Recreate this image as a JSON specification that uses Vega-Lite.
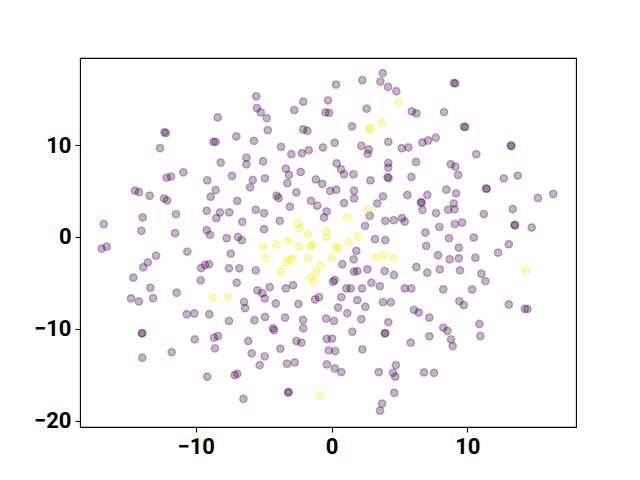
{
"$schema":"https://vega.github.io/schema/vega-lite/v6.json",
"width":496,"height":369,
"autosize":{"type":"none"},
"padding":{"left":80,"top":58,"right":64,"bottom":53},
"background":"white",
"config":{"view":{"stroke":"black","strokeWidth":1.1},
"axis":{"domain":false,"grid":false,"ticks":true,"tickColor":"black","tickSize":5,"tickWidth":1.1,"labelFont":"Roboto","labelFontWeight":"bold","labelFontSize":22,"labelColor":"black","labelPadding":4,"title":null}},
"data":{"values":[
{"x":-12.3,"y":11.4,"g":0},{"x":-12.2,"y":11.3,"g":0},{"x":-12.63,"y":9.65,"g":0},{"x":-12.14,"y":6.45,"g":0},{"x":-11.82,"y":6.56,"g":0},{"x":-10.91,"y":7.03,"g":0},
{"x":-5.54,"y":15.3,"g":0},{"x":-5.49,"y":14.02,"g":0},{"x":-5.21,"y":13.55,"g":0},{"x":-4.77,"y":12.93,"g":0},{"x":-4.7,"y":11.62,"g":0},{"x":-8.38,"y":13.0,"g":0},{"x":-8.7,"y":10.35,"g":0},{"x":-8.53,"y":10.35,"g":0},{"x":-7.01,"y":10.93,"g":0},{"x":-5.71,"y":10.46,"g":0},{"x":-8.16,"y":8.09,"g":0},{"x":-7.33,"y":6.63,"g":0},{"x":-6.27,"y":8.63,"g":0},{"x":-6.27,"y":7.9,"g":0},{"x":-5.04,"y":8.23,"g":0},{"x":-5.8,"y":6.19,"g":0},{"x":-4.9,"y":6.37,"g":0},{"x":-9.15,"y":6.15,"g":0},{"x":-3.72,"y":9.8,"g":0},{"x":-2.96,"y":9.0,"g":0},{"x":-3.37,"y":7.43,"g":0},{"x":-3.13,"y":6.74,"g":0},{"x":-2.27,"y":7.07,"g":0},{"x":-2.74,"y":13.8,"g":0},{"x":-2.08,"y":14.72,"g":0},{"x":-2.08,"y":11.69,"g":0},{"x":-1.78,"y":11.55,"g":0},{"x":-2.19,"y":9.1,"g":0},{"x":-1.68,"y":9.43,"g":0},{"x":-1.16,"y":6.26,"g":0},{"x":-0.63,"y":9.73,"g":0},{"x":-0.26,"y":14.86,"g":0},{"x":-0.44,"y":13.55,"g":0},{"x":-0.18,"y":13.5,"g":0},
{"x":0.33,"y":16.58,"g":0},{"x":2.27,"y":17.05,"g":0},{"x":3.77,"y":17.81,"g":0},{"x":3.6,"y":16.9,"g":0},{"x":4.16,"y":16.32,"g":0},{"x":4.77,"y":15.85,"g":0},{"x":2.59,"y":13.96,"g":0},{"x":1.51,"y":12.02,"g":0},{"x":5.91,"y":13.66,"g":0},{"x":6.25,"y":13.44,"g":0},{"x":8.28,"y":13.58,"g":0},{"x":9.0,"y":16.75,"g":0},{"x":9.12,"y":16.7,"g":0},{"x":0.23,"y":10.24,"g":0},{"x":2.2,"y":9.91,"g":0},{"x":2.74,"y":9.51,"g":0},{"x":2.66,"y":9.04,"g":0},{"x":4.18,"y":10.35,"g":0},{"x":5.17,"y":9.65,"g":0},{"x":5.66,"y":9.73,"g":0},{"x":6.69,"y":10.27,"g":0},{"x":7.11,"y":10.49,"g":0},{"x":7.67,"y":10.79,"g":0},{"x":0.38,"y":8.01,"g":0},{"x":0.7,"y":7.36,"g":0},{"x":0.92,"y":6.81,"g":0},{"x":1.61,"y":6.81,"g":0},{"x":2.86,"y":6.15,"g":0},{"x":4.18,"y":8.05,"g":0},{"x":4.18,"y":7.54,"g":0},{"x":4.12,"y":6.5,"g":0},{"x":4.2,"y":6.4,"g":0},{"x":6.22,"y":8.16,"g":0},{"x":5.88,"y":6.52,"g":0},{"x":8.78,"y":7.9,"g":0},{"x":9.12,"y":7.65,"g":0},
{"x":9.75,"y":12.0,"g":0},{"x":9.85,"y":11.95,"g":0},{"x":13.2,"y":9.95,"g":0},{"x":13.25,"y":9.88,"g":0},{"x":10.66,"y":9.0,"g":0},{"x":9.32,"y":6.74,"g":0},{"x":12.68,"y":6.37,"g":0},{"x":13.71,"y":6.67,"g":0},
{"x":-14.47,"y":5.03,"g":0},{"x":-14.18,"y":4.88,"g":0},{"x":-13.39,"y":4.48,"g":0},{"x":-12.33,"y":4.19,"g":0},{"x":-12.11,"y":3.97,"g":0},{"x":-13.9,"y":2.11,"g":0},{"x":-11.45,"y":2.48,"g":0},{"x":-16.77,"y":1.39,"g":0},{"x":-14.0,"y":0.66,"g":0},{"x":-11.52,"y":0.4,"g":0},{"x":-16.92,"y":-1.28,"g":0},{"x":-16.55,"y":-1.06,"g":0},{"x":-12.92,"y":-2.04,"g":0},{"x":-13.53,"y":-2.77,"g":0},{"x":-13.86,"y":-3.31,"g":0},{"x":-10.62,"y":-1.6,"g":0},{"x":-14.59,"y":-4.44,"g":0},{"x":-9.6,"y":-3.39,"g":0},{"x":-9.31,"y":-3.06,"g":0},{"x":-9.02,"y":-2.98,"g":0},{"x":-9.63,"y":-4.73,"g":0},{"x":-13.34,"y":-5.54,"g":0},{"x":-11.4,"y":-6.08,"g":0},{"x":-14.76,"y":-6.7,"g":0},{"x":-14.18,"y":-7.03,"g":0},{"x":-13.14,"y":-6.67,"g":0},
{"x":-3.25,"y":5.85,"g":0},{"x":-0.68,"y":5.76,"g":0},{"x":-8.53,"y":5.1,"g":0},{"x":-8.9,"y":4.37,"g":0},{"x":-6.0,"y":5.39,"g":0},{"x":-4.04,"y":4.48,"g":0},{"x":-3.89,"y":4.23,"g":0},{"x":-2.59,"y":4.84,"g":0},{"x":-1.51,"y":3.93,"g":0},{"x":-1.05,"y":3.39,"g":0},{"x":-0.1,"y":5.0,"g":0},{"x":0.35,"y":5.14,"g":0},{"x":-6.94,"y":3.93,"g":0},{"x":-9.19,"y":2.84,"g":0},{"x":-8.21,"y":2.66,"g":0},{"x":-8.48,"y":2.04,"g":0},{"x":-7.53,"y":2.66,"g":0},{"x":-6.57,"y":1.64,"g":0},{"x":-5.58,"y":2.95,"g":0},{"x":-4.97,"y":2.59,"g":0},{"x":-3.81,"y":1.75,"g":0},{"x":-3.06,"y":3.28,"g":0},{"x":-4.97,"y":0.84,"g":0},{"x":-0.55,"y":2.11,"g":0},{"x":-0.36,"y":2.77,"g":0},{"x":-9.19,"y":0.73,"g":0},{"x":-8.95,"y":0.22,"g":0},{"x":-7.72,"y":-0.14,"g":0},{"x":-6.89,"y":0.0,"g":0},{"x":-6.61,"y":-0.36,"g":0},{"x":-7.42,"y":-1.82,"g":0},{"x":-7.55,"y":-3.42,"g":0},{"x":-6.79,"y":-3.42,"g":0},{"x":-5.58,"y":-3.64,"g":0},{"x":-6.98,"y":-4.99,"g":0},{"x":-5.46,"y":-5.83,"g":0},{"x":-5.1,"y":-6.12,"g":0},{"x":-4.92,"y":-6.7,"g":0},{"x":-4.55,"y":-5.46,"g":0},{"x":-3.37,"y":-5.61,"g":0},{"x":-2.83,"y":-5.25,"g":0},{"x":-6.44,"y":-7.07,"g":0},{"x":-4.11,"y":-7.25,"g":0},{"x":-2.44,"y":-7.29,"g":0},{"x":-1.21,"y":-6.81,"g":0},{"x":-0.92,"y":-6.56,"g":0},
{"x":1.66,"y":5.03,"g":0},{"x":1.66,"y":4.19,"g":0},{"x":0.92,"y":3.68,"g":0},{"x":3.79,"y":4.41,"g":0},{"x":3.37,"y":3.64,"g":0},{"x":2.81,"y":2.3,"g":0},{"x":5.58,"y":4.56,"g":0},{"x":7.05,"y":4.56,"g":0},{"x":8.45,"y":5.14,"g":0},{"x":6.58,"y":3.78,"g":0},{"x":6.64,"y":3.72,"g":0},{"x":6.69,"y":2.95,"g":0},{"x":7.7,"y":2.59,"g":0},{"x":8.58,"y":2.95,"g":0},{"x":3.96,"y":1.75,"g":0},{"x":4.58,"y":1.82,"g":0},{"x":5.19,"y":2.04,"g":0},{"x":5.39,"y":1.67,"g":0},{"x":2.47,"y":1.2,"g":0},{"x":1.83,"y":-1.53,"g":0},{"x":1.63,"y":-2.44,"g":0},{"x":3.2,"y":-0.25,"g":0},{"x":3.96,"y":-0.36,"g":0},{"x":6.91,"y":0.47,"g":0},{"x":7.94,"y":1.09,"g":0},{"x":8.65,"y":-0.14,"g":0},{"x":6.97,"y":-0.98,"g":0},{"x":7.84,"y":-2.0,"g":0},{"x":8.7,"y":-2.44,"g":0},{"x":0.8,"y":-2.98,"g":0},{"x":1.66,"y":-3.79,"g":0},{"x":1.9,"y":-3.72,"g":0},{"x":2.64,"y":-3.53,"g":0},{"x":3.92,"y":-3.72,"g":0},{"x":4.6,"y":-4.15,"g":0},{"x":6.25,"y":-3.28,"g":0},{"x":7.05,"y":-3.9,"g":0},{"x":7.97,"y":-3.53,"g":0},{"x":0.23,"y":-4.7,"g":0},{"x":0.11,"y":-4.88,"g":0},{"x":2.93,"y":-4.99,"g":0},{"x":3.55,"y":-5.36,"g":0},{"x":1.09,"y":-5.61,"g":0},{"x":1.41,"y":-5.61,"g":0},{"x":2.25,"y":-5.61,"g":0},{"x":5.39,"y":-5.61,"g":0},{"x":5.88,"y":-5.61,"g":0},{"x":8.23,"y":-5.72,"g":0},{"x":0.72,"y":-6.56,"g":0},{"x":1.9,"y":-6.89,"g":0},
{"x":11.38,"y":5.28,"g":0},{"x":11.42,"y":5.22,"g":0},{"x":9.17,"y":4.74,"g":0},{"x":9.0,"y":3.64,"g":0},{"x":9.05,"y":3.0,"g":0},{"x":15.2,"y":4.23,"g":0},{"x":16.33,"y":4.67,"g":0},{"x":11.21,"y":2.48,"g":0},{"x":13.34,"y":3.03,"g":0},{"x":9.07,"y":1.39,"g":0},{"x":9.61,"y":1.56,"g":0},{"x":13.47,"y":1.3,"g":0},{"x":13.51,"y":1.26,"g":0},{"x":14.74,"y":1.02,"g":0},{"x":10.47,"y":-0.07,"g":0},{"x":9.37,"y":-1.17,"g":0},{"x":13.05,"y":-0.8,"g":0},{"x":12.26,"y":-1.72,"g":0},{"x":9.37,"y":-2.33,"g":0},{"x":10.59,"y":-2.26,"g":0},{"x":9.46,"y":-3.64,"g":0},{"x":11.03,"y":-4.01,"g":0},{"x":11.33,"y":-4.81,"g":0},{"x":10.35,"y":-5.72,"g":0},{"x":9.41,"y":-6.99,"g":0},{"x":9.74,"y":-7.43,"g":0},{"x":13.05,"y":-7.36,"g":0},{"x":14.23,"y":-7.84,"g":0},{"x":14.42,"y":-7.84,"g":0},
{"x":-10.66,"y":-8.42,"g":0},{"x":-10.1,"y":-8.34,"g":0},{"x":-9.0,"y":-8.42,"g":0},{"x":-13.97,"y":-10.5,"g":0},{"x":-13.93,"y":-10.47,"g":0},{"x":-10.07,"y":-11.15,"g":0},{"x":-13.93,"y":-13.15,"g":0},{"x":-11.77,"y":-12.54,"g":0},{"x":-9.15,"y":-15.22,"g":0},
{"x":-6.37,"y":-7.76,"g":0},{"x":-7.55,"y":-9.14,"g":0},{"x":-5.68,"y":-9.07,"g":0},{"x":-4.9,"y":-8.71,"g":0},{"x":-3.42,"y":-8.78,"g":0},{"x":-2.1,"y":-9.04,"g":0},{"x":-2.08,"y":-9.95,"g":0},{"x":-0.4,"y":-8.89,"g":0},{"x":-4.31,"y":-9.95,"g":0},{"x":-4.23,"y":-10.16,"g":0},{"x":-8.65,"y":-10.96,"g":0},{"x":-8.36,"y":-10.79,"g":0},{"x":-8.58,"y":-12.13,"g":0},{"x":-6.13,"y":-11.33,"g":0},{"x":-5.88,"y":-12.68,"g":0},{"x":-4.92,"y":-13.0,"g":0},{"x":-5.29,"y":-13.96,"g":0},{"x":-3.77,"y":-12.17,"g":0},{"x":-2.59,"y":-11.33,"g":0},{"x":-2.22,"y":-11.51,"g":0},{"x":-3.28,"y":-13.8,"g":0},{"x":-2.71,"y":-13.66,"g":0},{"x":-0.35,"y":-11.11,"g":0},{"x":0.04,"y":-11.07,"g":0},{"x":-0.21,"y":-12.35,"g":0},{"x":0.28,"y":-12.43,"g":0},{"x":-0.35,"y":-13.88,"g":0},{"x":-7.13,"y":-15.05,"g":0},{"x":-6.94,"y":-14.9,"g":0},{"x":-6.49,"y":-17.63,"g":0},{"x":-3.2,"y":-16.93,"g":0},{"x":-3.16,"y":-16.89,"g":0},
{"x":0.48,"y":-7.69,"g":0},{"x":1.16,"y":-8.31,"g":0},{"x":2.49,"y":-7.61,"g":0},{"x":3.79,"y":-7.1,"g":0},{"x":4.36,"y":-7.1,"g":0},{"x":6.07,"y":-7.94,"g":0},{"x":6.42,"y":-8.23,"g":0},{"x":7.2,"y":-8.78,"g":0},{"x":0.18,"y":-9.14,"g":0},{"x":2.19,"y":-8.96,"g":0},{"x":4.18,"y":-9.29,"g":0},{"x":1.53,"y":-10.31,"g":0},{"x":3.92,"y":-10.5,"g":0},{"x":3.96,"y":-10.47,"g":0},{"x":5.83,"y":-11.51,"g":0},{"x":7.2,"y":-10.82,"g":0},{"x":8.23,"y":-9.87,"g":0},{"x":8.53,"y":-10.24,"g":0},{"x":8.8,"y":-11.15,"g":0},{"x":8.92,"y":-11.88,"g":0},{"x":2.27,"y":-12.24,"g":0},{"x":0.23,"y":-14.32,"g":0},{"x":0.72,"y":-14.72,"g":0},{"x":3.48,"y":-14.72,"g":0},{"x":4.73,"y":-13.96,"g":0},{"x":4.53,"y":-14.79,"g":0},{"x":4.7,"y":-15.22,"g":0},{"x":6.81,"y":-14.75,"g":0},{"x":7.55,"y":-14.79,"g":0},{"x":4.62,"y":-16.97,"g":0},{"x":3.72,"y":-18.14,"g":0},{"x":3.57,"y":-18.91,"g":0},{"x":10.88,"y":-9.48,"g":0},{"x":10.96,"y":-10.79,"g":0},
{"x":4.92,"y":14.68,"g":1},{"x":2.8,"y":11.8,"g":1},{"x":2.86,"y":11.74,"g":1},{"x":3.7,"y":12.42,"g":1},{"x":2.69,"y":2.95,"g":1},{"x":1.14,"y":2.11,"g":1},{"x":1.95,"y":0.03,"g":1},{"x":1.27,"y":-0.58,"g":1},{"x":0.35,"y":-1.09,"g":1},{"x":0.48,"y":-1.28,"g":1},{"x":0.04,"y":-2.33,"g":1},{"x":3.3,"y":-2.19,"g":1},{"x":3.87,"y":-2.0,"g":1},{"x":4.58,"y":-2.33,"g":1},{"x":-2.47,"y":1.46,"g":1},{"x":-2.34,"y":0.95,"g":1},{"x":-1.73,"y":0.29,"g":1},{"x":-1.53,"y":-0.98,"g":1},{"x":-1.41,"y":-0.87,"g":1},{"x":-0.36,"y":0.66,"g":1},{"x":-0.36,"y":0.0,"g":1},{"x":-5.02,"y":-1.09,"g":1},{"x":-4.04,"y":-0.87,"g":1},{"x":-3.18,"y":-0.44,"g":1},{"x":-2.39,"y":-1.02,"g":1},{"x":-4.82,"y":-2.33,"g":1},{"x":-3.37,"y":-2.81,"g":1},{"x":-3.06,"y":-2.48,"g":1},{"x":-2.89,"y":-2.33,"g":1},{"x":-1.73,"y":-2.33,"g":1},{"x":-3.7,"y":-3.79,"g":1},{"x":-0.85,"y":-3.06,"g":1},{"x":-1.12,"y":-3.79,"g":1},{"x":-1.58,"y":-4.45,"g":1},{"x":-1.29,"y":-4.81,"g":1},{"x":-8.75,"y":-6.63,"g":1},{"x":-7.6,"y":-6.52,"g":1},{"x":14.3,"y":-3.64,"g":1},{"x":-0.87,"y":-17.23,"g":1}
]},
"mark":{"type":"circle","size":55,"strokeWidth":1.4,"fillOpacity":0.3,"strokeOpacity":0.3},
"encoding":{
"x":{"field":"x","type":"quantitative","scale":{"domain":[-18.52,18.0],"nice":false,"zero":false},"axis":{"values":[-10,0,10],"labelFlush":false}},
"y":{"field":"y","type":"quantitative","scale":{"domain":[-20.69,19.47],"nice":false,"zero":false},"axis":{"values":[-20,-10,0,10],"labelFlush":false}},
"fill":{"field":"g","type":"nominal","scale":{"domain":[0,1],"range":["#440154","#fde725"]},"legend":null},
"stroke":{"field":"g","type":"nominal","scale":{"domain":[0,1],"range":["#440154","#fde725"]},"legend":null}
}
}
